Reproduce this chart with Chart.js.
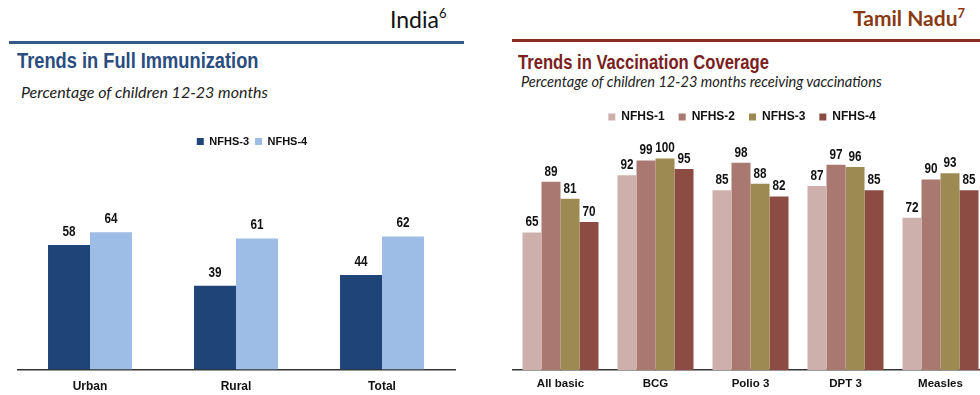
<!DOCTYPE html>
<html><head><meta charset="utf-8">
<script src="https://cdn.jsdelivr.net/npm/chart.js@4.4.1/dist/chart.umd.min.js"></script>
<style>
html,body{margin:0;padding:0;width:980px;height:395px;overflow:hidden;background:#fff;position:relative;}
.abs{position:absolute;white-space:nowrap;}
#india{left:390px;top:5px;font:23px Lato, "Open Sans", sans-serif;color:#111;}
#india sup,#tn sup{font-size:13px;vertical-align:top;position:relative;top:0px;}
#tn{left:853px;top:5px;font:bold 21px Lato, "Open Sans", sans-serif;color:#8a3a12;}
#lineL{left:9px;top:41px;width:455px;height:3px;background:#36598a;}
#lineR{left:512px;top:39px;width:470px;height:3px;background:#8a2c22;}
#titleL{left:17px;top:48px;font:bold 22px "Liberation Sans", Arial, sans-serif;color:#2a4c7e;transform:scaleX(0.83);transform-origin:0 0;}
#subL{left:21px;top:82px;font:italic 16px Lato, "Open Sans", sans-serif;color:#222;}
#titleR{left:518px;top:51px;font:bold 20px "Liberation Sans", Arial, sans-serif;color:#7a2020;transform:scaleX(0.83);transform-origin:0 0;}
#subR{left:521px;top:73px;font:italic 14.6px Lato, "Open Sans", sans-serif;color:#222;}
#wrapL{left:17px;top:130px;width:470px;height:274px;}
#wrapR{left:496px;top:97px;width:492px;height:301px;}
</style></head>
<body>
<div class="abs" id="india">India<sup>6</sup></div>
<div class="abs" id="tn">Tamil Nadu<sup>7</sup></div>
<div class="abs" id="lineL"></div>
<div class="abs" id="lineR"></div>
<div class="abs" id="titleL">Trends in Full Immunization</div>
<div class="abs" id="subL">Percentage of children 12-23 months</div>
<div class="abs" id="titleR">Trends in Vaccination Coverage</div>
<div class="abs" id="subR">Percentage of children 12-23 months receiving vaccinations</div>
<div class="abs" id="wrapL"><canvas id="cL"></canvas></div>
<div class="abs" id="wrapR"><canvas id="cR"></canvas></div>
<script>
// India data
const indiaCategories = ["Urban", "Rural", "Total"];
const indiaNFHS3 = [58, 39, 44];
const indiaNFHS4 = [64, 61, 62];
// Tamil Nadu data
const tnCategories = ["All basic", "BCG", "Polio 3", "DPT 3", "Measles"];
const tnNFHS1 = [65, 92, 85, 87, 72];
const tnNFHS2 = [89, 99, 98, 97, 90];
const tnNFHS3 = [81, 100, 88, 96, 93];
const tnNFHS4 = [70, 95, 82, 85, 85];

const FONT = '"Liberation Sans", Arial, sans-serif';

const valueLabels = {
  id: 'valueLabels',
  afterDatasetsDraw(chart, args, opts) {
    const ctx = chart.ctx;
    chart.data.datasets.forEach((ds, i) => {
      const meta = chart.getDatasetMeta(i);
      meta.data.forEach((bar, j) => {
        ctx.save();
        ctx.font = 'bold ' + opts.size + 'px ' + FONT;
        ctx.fillStyle = '#111';
        ctx.textAlign = 'center';
        ctx.textBaseline = 'middle';
        ctx.translate(bar.x, bar.y - opts.offset);
        ctx.scale(0.84, 1);
        ctx.fillText(String(ds.data[j]), 0, 0);
        ctx.restore();
      });
    });
  }
};

function makeChart(id, cats, datasets, o) {
  return new Chart(document.getElementById(id), {
    type: 'bar',
    data: { labels: cats, datasets: datasets },
    plugins: [valueLabels],
    options: {
      responsive: true,
      maintainAspectRatio: false,
      animation: false,
      devicePixelRatio: 1,
      layout: { padding: 0 },
      datasets: { bar: { barPercentage: 1, categoryPercentage: o.catPct } },
      plugins: {
        tooltip: { enabled: false },
        legend: {
          position: 'top',
          labels: { boxWidth: 7, boxHeight: 7, padding: o.legendPad, color: '#111',
                    font: { family: FONT, size: o.legendSize, weight: 'bold' } }
        },
        valueLabels: { size: 14, offset: o.labelOffset }
      },
      scales: {
        x: {
          grid: { display: false, drawTicks: false },
          border: { display: true, color: '#333', width: 1.5 },
          ticks: { color: '#111', padding: o.tickPad, font: { family: FONT, size: o.tickSize, weight: 'bold' } }
        },
        y: {
          position: o.yPos,
          min: 0, max: o.yMax,
          grid: { display: false, drawTicks: false },
          border: { display: false },
          ticks: { display: false },
          afterFit(scale) { scale.width = o.yWidth; }
        }
      }
    }
  });
}

makeChart('cL', indiaCategories, [
  { label: 'NFHS-3', data: indiaNFHS3, backgroundColor: '#1f4477' },
  { label: 'NFHS-4', data: indiaNFHS4, backgroundColor: '#9dbde6' }
], { catPct: 0.575, legendSize: 11, legendPad: 6, tickSize: 12, tickPad: 10, yPos: 'right', yWidth: 32, yMax: 99, labelOffset: 13 });

makeChart('cR', tnCategories, [
  { label: 'NFHS-1', data: tnNFHS1, backgroundColor: '#cdb0ac' },
  { label: 'NFHS-2', data: tnNFHS2, backgroundColor: '#a97870' },
  { label: 'NFHS-3', data: tnNFHS3, backgroundColor: '#9c8a52' },
  { label: 'NFHS-4', data: tnNFHS4, backgroundColor: '#8c4c44' }
], { catPct: 0.8, legendSize: 12, legendPad: 14, tickSize: 11.5, tickPad: 7, yPos: 'left', yWidth: 17, yMax: 112, labelOffset: 10 });
</script>
</body></html>
